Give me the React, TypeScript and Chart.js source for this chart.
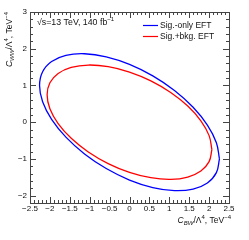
import { useEffect, useRef } from 'react';
import { Chart, registerables } from 'chart.js';
Chart.register(...registerables);

// Sig.-only EFT contour
const blueX = [2.26, 2.183, 1.957, 1.598, 1.13, 0.585, 0, -0.585, -1.13, -1.598, -1.957, -2.183, -2.26, -2.183, -1.957, -1.598, -1.13, -0.585, 0, 0.585, 1.13, 1.598, 1.957, 2.183, 2.26];
const blueY = [-1.0, -0.558, -0.078, 0.407, 0.864, 1.262, 1.575, 1.78, 1.864, 1.821, 1.654, 1.374, 1.0, 0.558, 0.078, -0.407, -0.864, -1.262, -1.575, -1.78, -1.864, -1.821, -1.654, -1.374, -1.0];
// Sig.+bkg. EFT contour
const redX = [2.07, 2.0, 1.793, 1.464, 1.035, 0.536, 0, -0.536, -1.035, -1.464, -1.793, -2.0, -2.07, -2.0, -1.793, -1.464, -1.035, -0.536, 0, 0.536, 1.035, 1.464, 1.793, 2.0, 2.07];
const redY = [-0.745, -0.366, 0.038, 0.439, 0.81, 1.126, 1.366, 1.512, 1.556, 1.493, 1.328, 1.074, 0.745, 0.366, -0.038, -0.439, -0.81, -1.126, -1.366, -1.512, -1.556, -1.493, -1.328, -1.074, -0.745];

const xTicks = [-2.5, -2, -1.5, -1, -0.5, 0, 0.5, 1, 1.5, 2, 2.5];
const yTicks = [-2, -1, 0, 1, 2, 3];
const seriesNames = ['Sig.-only EFT', 'Sig.+bkg. EFT'];
const seriesColors = ['#0000ff', '#ff0000'];

const FONT = '"Liberation Sans", Arial, Helvetica, sans-serif';
const X_MIN = -2.5, X_MAX = 2.5, Y_MIN = -2.2, Y_MAX = 3;
const X_MINOR = 0.1, Y_MINOR = 0.2;

type Seg = { t: string; size: number; dy: number; italic?: boolean };

function drawSegs(ctx: CanvasRenderingContext2D, segs: Seg[], x: number, y: number, align: 'left' | 'right') {
  const f = (s: Seg) => `${s.italic ? 'italic ' : ''}${s.size}px ${FONT}`;
  let w = 0;
  segs.forEach((s) => { ctx.font = f(s); w += ctx.measureText(s.t).width; });
  let cx = align === 'right' ? x - w : x;
  ctx.textAlign = 'left';
  ctx.textBaseline = 'alphabetic';
  segs.forEach((s) => { ctx.font = f(s); ctx.fillText(s.t, cx, y + s.dy); cx += ctx.measureText(s.t).width; });
}

const fmt = (v: number) => String(v).replace('-', '\u2212');

const framePlugin = {
  id: 'rootFrame',
  afterDraw(chart: any) {
    const ctx: CanvasRenderingContext2D = chart.ctx;
    const { left, right, top, bottom } = chart.chartArea;
    const xs = chart.scales.x, ys = chart.scales.y;
    ctx.save();
    ctx.strokeStyle = '#444';
    ctx.lineWidth = 1;
    ctx.strokeRect(Math.round(left) + 0.5, Math.round(top) + 0.5, Math.round(right - left), Math.round(bottom - top));
    ctx.beginPath();
    const nx = Math.round((X_MAX - X_MIN) / X_MINOR);
    for (let i = 0; i <= nx; i++) {
      const v = X_MIN + i * X_MINOR;
      const major = i % 5 === 0;
      const len = major ? 6 : 3;
      const px = Math.round(xs.getPixelForValue(v)) + 0.5;
      ctx.moveTo(px, bottom); ctx.lineTo(px, bottom - len);
      ctx.moveTo(px, top); ctx.lineTo(px, top + len);
    }
    const ny = Math.round((Y_MAX - Y_MIN) / Y_MINOR);
    for (let i = 0; i <= ny; i++) {
      const v = Y_MIN + i * Y_MINOR;
      const major = Math.abs(v - Math.round(v)) < 1e-6;
      const len = major ? 6 : 3;
      const py = Math.round(ys.getPixelForValue(v)) + 0.5;
      ctx.moveTo(left, py); ctx.lineTo(left + len, py);
      ctx.moveTo(right, py); ctx.lineTo(right - len, py);
    }
    ctx.stroke();

    ctx.fillStyle = '#111';
    // energy / luminosity label
    drawSegs(ctx, [
      { t: '\u221As=13 TeV, 140 fb', size: 8.8, dy: 0 },
      { t: '\u22121', size: 6, dy: -4 },
    ], 37, 25, 'left');

    // legend
    seriesNames.forEach((name, i) => {
      const yy = 25.5 + i * 11;
      ctx.strokeStyle = seriesColors[i];
      ctx.lineWidth = 1.2;
      ctx.beginPath(); ctx.moveTo(143, yy); ctx.lineTo(158, yy); ctx.stroke();
      ctx.fillStyle = '#111';
      ctx.font = `8.5px ${FONT}`;
      ctx.textAlign = 'left'; ctx.textBaseline = 'middle';
      ctx.fillText(name, 160, yy + 0.5);
    });

    // x title
    ctx.fillStyle = '#111';
    drawSegs(ctx, [
      { t: 'C', size: 8.5, dy: 0, italic: true },
      { t: 'BW', size: 6, dy: 2, italic: true },
      { t: '/\u039B', size: 8.5, dy: 0 },
      { t: '4', size: 6, dy: -4 },
      { t: ', TeV', size: 8.5, dy: 0 },
      { t: '\u22124', size: 6, dy: -4 },
    ], 231, 223, 'right');

    // y title
    ctx.translate(12, 12);
    ctx.rotate(-Math.PI / 2);
    drawSegs(ctx, [
      { t: 'C', size: 8.5, dy: 0, italic: true },
      { t: 'WW', size: 6, dy: 2, italic: true },
      { t: '/\u039B', size: 8.5, dy: 0 },
      { t: '4', size: 6, dy: -4 },
      { t: ', TeV', size: 8.5, dy: 0 },
      { t: '\u22124', size: 6, dy: -4 },
    ], 0, 0, 'right');
    ctx.restore();
  },
};

export default function App() {
  const ref = useRef<HTMLCanvasElement>(null);
  useEffect(() => {
    if (!ref.current) return;
    const mk = (xs: number[], ys: number[]) => xs.map((x, i) => ({ x, y: ys[i] }));
    const chart = new Chart(ref.current, {
      type: 'scatter',
      data: {
        datasets: [
          { label: seriesNames[0], data: mk(blueX, blueY), showLine: true, borderColor: seriesColors[0], borderWidth: 1.3, pointRadius: 0, tension: 0.4, fill: false },
          { label: seriesNames[1], data: mk(redX, redY), showLine: true, borderColor: seriesColors[1], borderWidth: 1.3, pointRadius: 0, tension: 0.4, fill: false },
        ],
      },
      options: {
        animation: false,
        responsive: false,
        layout: { padding: { top: 12, right: 20, left: 0, bottom: 0 } },
        plugins: { legend: { display: false }, tooltip: { enabled: false } },
        scales: {
          x: {
            type: 'linear', min: X_MIN, max: X_MAX,
            afterBuildTicks: (s: any) => { s.ticks = xTicks.map((v) => ({ value: v })); },
            afterFit: (s: any) => { s.height = 37; },
            grid: { display: false, drawTicks: false },
            border: { display: false },
            ticks: { autoSkip: false, maxRotation: 0, minRotation: 0, padding: 1, color: '#111', font: { family: FONT, size: 8 }, callback: (v: any) => fmt(Number(v)) },
          },
          y: {
            type: 'linear', min: Y_MIN, max: Y_MAX,
            afterBuildTicks: (s: any) => { s.ticks = yTicks.map((v) => ({ value: v })); },
            afterFit: (s: any) => { s.width = 30; },
            grid: { display: false, drawTicks: false },
            border: { display: false },
            ticks: { autoSkip: false, padding: 3, color: '#111', font: { family: FONT, size: 8 }, callback: (v: any) => fmt(Number(v)) },
          },
        },
      },
      plugins: [framePlugin],
    });
    return () => chart.destroy();
  }, []);
  return (
    <div style={{ position: 'absolute', left: 0, top: 0, width: 249, height: 240, background: '#fff' }}>
      <canvas ref={ref} width={249} height={240} style={{ display: 'block' }} />
    </div>
  );
}
